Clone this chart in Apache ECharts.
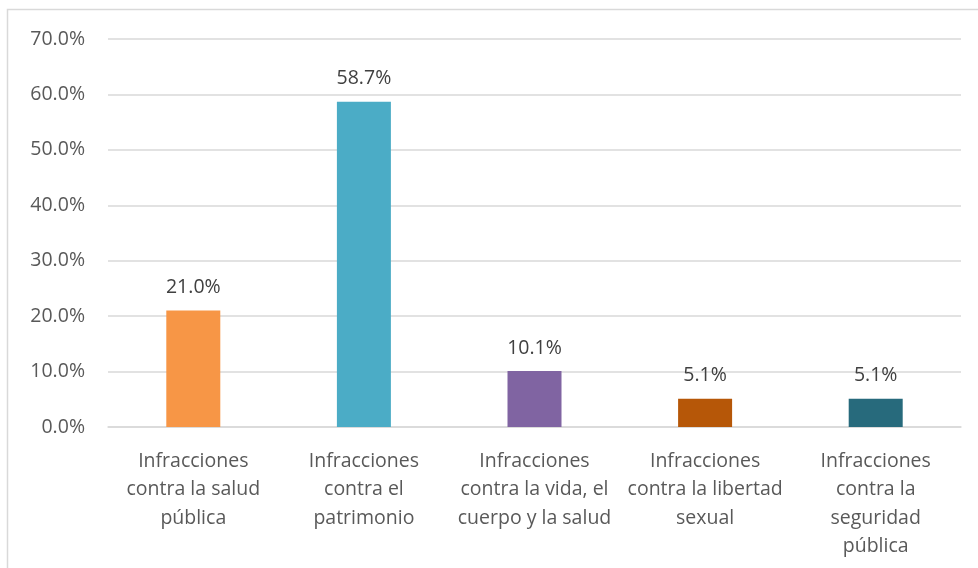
<!DOCTYPE html>
<html>
<head>
<meta charset="utf-8">
<script src="https://cdn.jsdelivr.net/npm/echarts@6/dist/echarts.min.js"></script>
<style>
  html, body { margin: 0; padding: 0; background: #fff; }
  #chart { width: 978px; height: 568px; }
</style>
</head>
<body>
<div id="chart"></div>
<script>
const categories = [
  'Infracciones\ncontra la salud\npública',
  'Infracciones\ncontra el\npatrimonio',
  'Infracciones\ncontra la vida, el\ncuerpo y la salud',
  'Infracciones\ncontra la libertad\nsexual',
  'Infracciones\ncontra la\nseguridad\npública'
];
const values = [21.0, 58.7, 10.1, 5.1, 5.1];
const barColors = ['#F79646', '#4BACC6', '#8064A2', '#B65708', '#276A7C'];

const fontFamily = '"Open Sans", "Noto Sans", sans-serif';
const chart = echarts.init(document.getElementById('chart'));

const option = {
  animation: false,
  graphic: [
    {
      type: 'rect',
      shape: { x: 7.5, y: 9.5, width: 1000, height: 600 },
      style: { fill: 'none', stroke: '#d9d9d9', lineWidth: 1.5 },
      silent: true
    }
  ],
  grid: {
    left: 108,
    right: 17,
    top: 39,
    bottom: 141,
    containLabel: false
  },
  xAxis: {
    type: 'category',
    data: categories,
    axisTick: { show: false },
    axisLine: { lineStyle: { color: '#d9d9d9', width: 1.5 } },
    axisLabel: {
      interval: 0,
      color: '#595959',
      fontSize: 19.5,
      lineHeight: 28.5,
      margin: 20,
      fontFamily: fontFamily
    }
  },
  yAxis: {
    type: 'value',
    min: 0,
    max: 70,
    interval: 10,
    axisLine: { show: false },
    axisTick: { show: false },
    splitLine: { lineStyle: { color: '#d9d9d9', width: 1.5 } },
    axisLabel: {
      color: '#595959',
      fontSize: 19.5,
      margin: 23,
      fontFamily: fontFamily,
      formatter: (v) => v.toFixed(1) + '%'
    }
  },
  series: [
    {
      type: 'bar',
      barWidth: 54,
      data: values.map((v, i) => ({ value: v, itemStyle: { color: barColors[i] } })),
      label: {
        show: true,
        position: 'top',
        distance: 13,
        color: '#404040',
        fontSize: 19.5,
        fontFamily: fontFamily,
        formatter: (p) => p.value.toFixed(1) + '%'
      }
    }
  ]
};

chart.setOption(option);
</script>
</body>
</html>
